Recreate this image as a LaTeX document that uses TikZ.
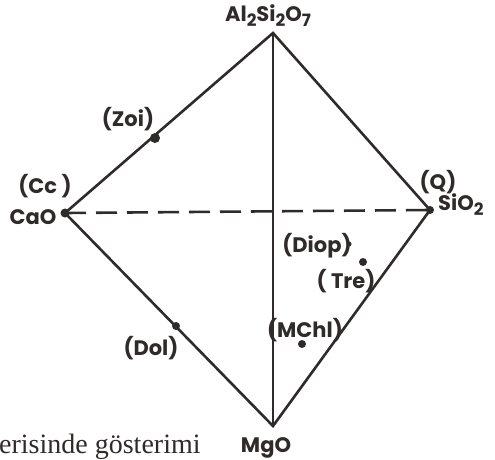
\documentclass[tikz,border=0pt]{standalone}
\usepackage{fontspec}
\setmainfont{Poppins}
\newfontfamily\bookfont{Liberation Serif}
\newcommand{\lowsub}[1]{\raisebox{-5pt}{\fontsize{17}{17}\selectfont #1}}
\definecolor{ink}{HTML}{2E2B2A}
\begin{document}
\begin{tikzpicture}[x=1pt,y=-1pt,
  edge/.style={draw=ink,line width=2.6pt,line join=miter},
  dashedge/.style={draw=ink,line width=2.6pt,dash pattern=on 21pt off 10pt},
  lbl/.style={text=ink,font=\bfseries\fontsize{21}{21}\selectfont,inner sep=0pt},
  pt/.style={circle,fill=ink,inner sep=0pt,minimum size=#1}]
\useasboundingbox (0,0) rectangle (495,459);
\coordinate (T) at (273,33);
\coordinate (L) at (65,213);
\coordinate (R) at (430,210);
\coordinate (B) at (273,426);
\draw[edge] (L) -- (T) -- (R) -- (B) -- cycle;
\draw[edge] (T) -- (B);
\draw[dashedge] (L) -- (R);
\node[pt=9pt] (Ldot) at (L) {};
\node[pt=8pt] (Rdot) at (R) {};
\node[pt=10pt] (zoi) at (155,138) {};
\node[pt=8pt] (dol) at (176,326) {};
\node[pt=5pt] (diop) at (349,244) {};
\node[pt=8pt] (tre) at (363,262) {};
\node[pt=8pt] (mchl) at (302,344) {};
\node[lbl,anchor=base] (lT) at (268,21) {Al\lowsub{2}Si\lowsub{2}O\lowsub{7}};
\node[lbl,anchor=base] (lzoi) at (128,126) {(Zoi)};
\node[lbl,anchor=base] (lcc) at (45,193) {(Cc )};
\node[lbl,anchor=base] (lcao) at (33,224) {CaO};
\node[lbl,anchor=base] (lq) at (438,189) {(Q)};
\node[lbl,anchor=base west] (lsio) at (438,210) {SiO\lowsub{2}};
\node[lbl,anchor=base] (ldiop) at (317,252) {(Diop)};
\node[lbl,anchor=base] (ltre) at (346,288) {( Tre)};
\node[lbl,anchor=base] (lmchl) at (305,337) {(MChl)};
\node[lbl,anchor=base] (ldol) at (151,355) {(Dol)};
\node[lbl,anchor=base] (lmgo) at (266,452) {MgO};
\node[text=ink,font=\bookfont\fontsize{28}{28}\selectfont,inner sep=0pt,anchor=base west] (cap) at (-1,453) {erisinde gösterimi};
\end{tikzpicture}
\end{document}
